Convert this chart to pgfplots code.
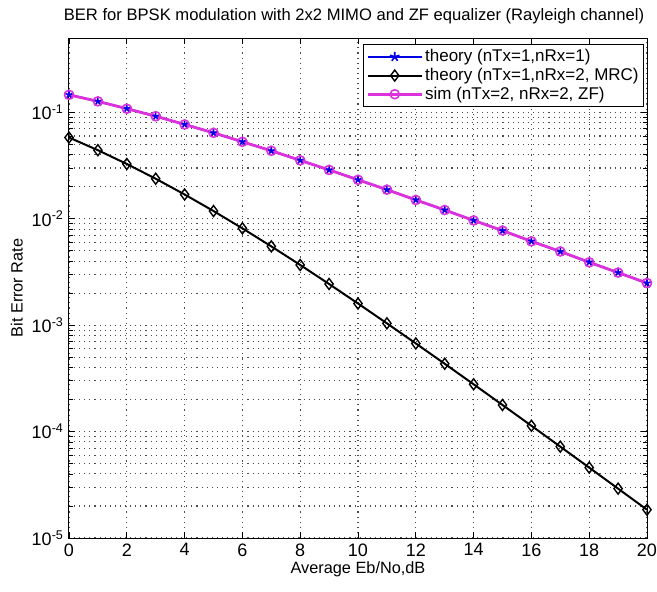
\documentclass[border=0pt]{standalone}
\usepackage{pgfplots}
\pgfplotsset{compat=1.18}
\usepackage{fontspec}
\setmainfont{Liberation Sans}
\definecolor{mmag}{RGB}{220,50,220}
\definecolor{mblue}{RGB}{0,0,230}
\begin{document}
\fontsize{16}{19}\selectfont
\begin{tikzpicture}
\begin{axis}[
  name=ax,
  scale only axis,
  width=578pt, height=500pt,
  ymode=log,
  xmin=0, xmax=20, ymin=1e-5, ymax=0.5,
  xtick={0,2,...,20},
  ytick={1e-5,1e-4,1e-3,1e-2,1e-1},
  yticklabels={10\textsuperscript{-5},10\textsuperscript{-4},10\textsuperscript{-3},10\textsuperscript{-2},10\textsuperscript{-1}},
  /pgf/number format/assume math mode=true,
  tick label style={font=\fontsize{18}{21}\selectfont},
  label style={font=\fontsize{16.3}{19}\selectfont},
  title style={font=\fontsize{16.6}{20}\selectfont, yshift=3pt, xshift=-4pt},
  title={BER for BPSK modulation with 2x2 MIMO and ZF equalizer (Rayleigh channel)},
  xlabel={Average Eb/No,dB},
  ylabel={Bit Error Rate},
  ylabel style={yshift=-2pt},
  xlabel style={yshift=5pt},
  grid=both,
  major grid style={dash pattern=on 1.1pt off 4pt, line width=1.1pt, black!70},
  minor grid style={dash pattern=on 1.1pt off 4pt, line width=1.1pt, black!70},
  tick align=inside,
  major tick length=6.5pt,
  minor tick length=4pt,
  tick style={black, line width=0.8pt},
  axis line style={line width=1pt},
  xtick pos=both, ytick pos=both,
  legend style={at={(rel axis cs:0.995,0.988)}, anchor=north east, draw=black, line width=0.9pt,
    font=\fontsize{17}{22}\selectfont, row sep=0pt, inner sep=3pt, cells={anchor=west}},
  legend image code/.code={\draw[mark repeat=2,mark phase=2] plot coordinates {(0pt,0pt) (27pt,0pt) (54pt,0pt)};},
]
\addplot[mblue, line width=2pt, mark=star, mark size=5pt, mark options={line width=1.6pt}] coordinates {
(0,0.14645) (1,0.12674) (2,0.10849) (3,0.09191) (4,0.07714) (5,0.06418) (6,0.05300)
(7,0.04347) (8,0.03546) (9,0.02878) (10,0.02327) (11,0.01875) (12,0.01506) (13,0.01208)
(14,0.009665) (15,0.007723) (16,0.006163) (17,0.004914) (18,0.003916) (19,0.003118) (20,0.002481)};
\addlegendentry{theory (nTx=1,nRx=1)}
\addplot[black, line width=2pt, mark=diamond, mark size=5.5pt, mark options={line width=1.4pt, fill=white}] coordinates {
(0,0.05806) (1,0.04411) (2,0.03275) (3,0.02379) (4,0.01693) (5,0.01183) (6,0.008129)
(7,0.005506) (8,0.003683) (9,0.002438) (10,0.001599) (11,0.001041) (12,0.0006739) (13,0.0004341)
(14,0.0002784) (15,0.0001780) (16,0.0001135) (17,7.220e-5) (18,4.589e-5) (19,2.911e-5) (20,1.844e-5)};
\addlegendentry{theory (nTx=1,nRx=2, MRC)}
\addplot[mmag, line width=2.8pt, mark=o, mark size=4.5pt, mark options={line width=1.6pt}] coordinates {
(0,0.1462) (1,0.1270) (2,0.1083) (3,0.0921) (4,0.0770) (5,0.0643) (6,0.0529)
(7,0.0436) (8,0.0354) (9,0.0288) (10,0.02325) (11,0.01878) (12,0.01503) (13,0.01210)
(14,0.00965) (15,0.00775) (16,0.00614) (17,0.00493) (18,0.00390) (19,0.00312) (20,0.00249)};
\addlegendentry{sim (nTx=2, nRx=2, ZF)}
\end{axis}
\pgfresetboundingbox
\path[use as bounding box] ([shift={(-69pt,-54pt)}]ax.south west) rectangle ([shift={(10pt,38pt)}]ax.north east);
\end{tikzpicture}
\end{document}
